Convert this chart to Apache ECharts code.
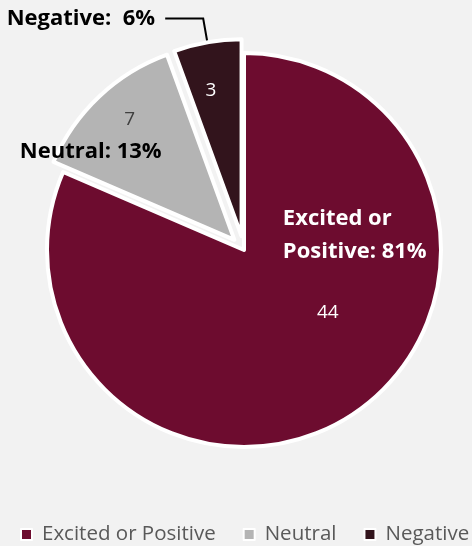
<!DOCTYPE html>
<html><head><meta charset="utf-8">
<script src="https://cdn.jsdelivr.net/npm/echarts@6/dist/echarts.min.js"></script>
<style>html,body{margin:0;padding:0;background:#f2f2f2;}#c{width:472px;height:546px;}</style>
</head><body><div id="c"></div>
<script>
// ---- data ----
const categories = ['Excited or Positive', 'Neutral', 'Negative'];
const counts = [44, 7, 3];

// ---- styles ----
const sliceColors = ['#6d0c2f', '#b4b4b4', '#32141c'];
const valueColors = ['#ffffff', '#404040', '#ffffff'];
const exploded = [false, true, true];
const valueShift = [[28, -22], [-35, -46], [-13, -46]];
const nameShift = [[55, -100], [-74, -14], [0, 0]];
const FONT = '"Open Sans", Lato, sans-serif';
const CENTER = [244, 250];
const RADIUS = 197;

const chart = echarts.init(document.getElementById('c'), null, { renderer: 'canvas' });

const baseData = categories.map((n, i) => ({ name: n, value: counts[i], selected: exploded[i] }));

const common = {
  type: 'pie',
  center: CENTER,
  radius: RADIUS,
  startAngle: 90,
  clockwise: true,
  selectedMode: 'multiple',
  selectedOffset: 14,
  avoidLabelOverlap: false,
  emphasis: { disabled: true },
  silent: true,
  animation: false
};

const option = {
  backgroundColor: '#f2f2f2',
  animation: false,
  legend: {
    data: categories,
    left: 20,
    top: 524,
    width: 452,
    padding: 0,
    icon: 'rect',
    itemWidth: 11,
    itemHeight: 11,
    itemGap: 27,
    itemStyle: { borderColor: '#ffffff', borderWidth: 2 },
    textStyle: { fontFamily: FONT, fontSize: 20.5, color: '#595959', padding: [0, 0, 0, 5] },
    selectedMode: false
  },
  series: [
    Object.assign({}, common, {
      name: 'values',
      itemStyle: { borderColor: '#ffffff', borderWidth: 4 },
      select: { itemStyle: { borderColor: '#ffffff', borderWidth: 4 } },
      label: { show: true, position: 'inside', formatter: '{c}', fontFamily: FONT, fontSize: 19 },
      labelLine: { show: false },
      labelLayout: p => ({ dx: valueShift[p.dataIndex][0], dy: valueShift[p.dataIndex][1] }),
      data: baseData.map((d, i) => Object.assign({}, d, {
        itemStyle: { color: sliceColors[i] },
        select: { itemStyle: { color: sliceColors[i] } },
        label: { color: valueColors[i] }
      }))
    }),
    Object.assign({}, common, {
      name: 'names',
      itemStyle: { color: 'rgba(0,0,0,0)', borderWidth: 0 },
      select: { itemStyle: { color: 'rgba(0,0,0,0)', borderWidth: 0 } },
      label: {
        show: true,
        position: 'inside',
        fontFamily: FONT,
        fontSize: 22,
        fontWeight: 'bold',
        formatter: p => {
          const pct = Math.round(p.percent) + '%';
          if (p.dataIndex === 0) return '{a|Excited or}\n{a|Positive: ' + pct + '}';
          if (p.dataIndex === 2) return p.name + ':  ' + pct;
          return p.name + ': ' + pct;
        },
        rich: { a: { align: 'left', fontFamily: FONT, fontSize: 22, fontWeight: 'bold', color: '#ffffff', lineHeight: 33 } }
      },
      labelLine: { show: false },
      labelLayout: p => (p.dataIndex === 2 ? {} : { dx: nameShift[p.dataIndex][0], dy: nameShift[p.dataIndex][1] }),
      data: baseData.map((d, i) => Object.assign({}, d, {
        label: i === 2
          ? { position: 'outside', color: '#000000', distanceToLabelLine: 10 }
          : { color: i === 0 ? '#ffffff' : '#000000' },
        labelLine: i === 2
          ? { show: true, length: 24, length2: 38, lineStyle: { color: '#000000', width: 2 } }
          : { show: false }
      }))
    })
  ]
};
chart.setOption(option);
</script>
</body></html>
